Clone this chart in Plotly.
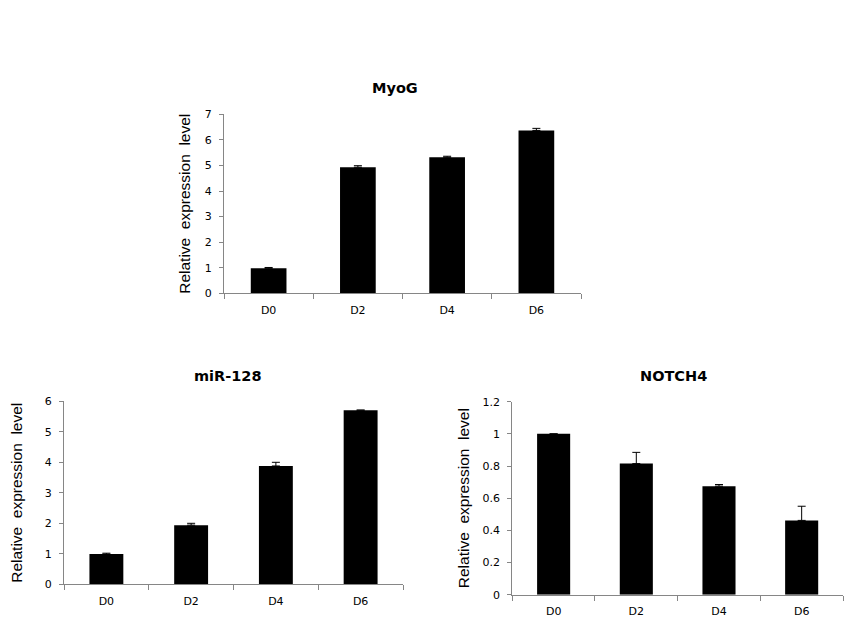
import plotly.graph_objects as go

days = ["D0", "D2", "D4", "D6"]
myog_vals = [0.98, 4.93, 5.32, 6.37]
myog_err = [0.03, 0.06, 0.04, 0.08]
mir_vals = [0.99, 1.94, 3.88, 5.71]
mir_err = [0.03, 0.06, 0.12, None]
notch_vals = [1.0, 0.815, 0.675, 0.462]
notch_err = [None, 0.07, 0.01, 0.088]

W, H = 858, 628
AX = "#868686"
TICKFONT = dict(family="DejaVu Sans", size=11, color="black")

fig = go.Figure()

panels = [
    ("MyoG", myog_vals, myog_err, "x", "y", 224, 581, 114.3, 293.3, [0, 7], 1, 395, 88, 185),
    ("miR-128", mir_vals, mir_err, "x2", "y2", 64, 403, 401.3, 584.3, [0, 6], 1, 228, 376, 17),
    ("NOTCH4", notch_vals, notch_err, "x3", "y3", 512.3, 843, 401.7, 594.7, [0, 1.2], 0.2, 673, 376, 463),
]

for i, (name, vals, err, xa, ya, x0, x1, yt, yb, rng, dt, tx, ty, ytx) in enumerate(panels):
    fig.add_trace(go.Bar(
        x=days, y=vals, xaxis=xa, yaxis=ya, width=0.4,
        marker=dict(color="black", line=dict(width=0)),
        error_y=dict(type="data", array=err, arrayminus=[0] * len(err), symmetric=False,
                     color="black", thickness=1, width=4, visible=True),
        showlegend=False,
    ))
    sfx = "" if i == 0 else str(i + 1)
    fig.update_layout(**{
        "xaxis" + sfx: dict(
            domain=[x0 / W, x1 / W], anchor=ya, type="category", automargin=False,
            showline=True, linecolor=AX, linewidth=1, ticks="outside", tickson="boundaries",
            ticklen=5, tickcolor=AX, tickfont=TICKFONT, showgrid=False, zeroline=False,
            range=[-0.5, 3.5], fixedrange=True, ticklabelstandoff=6,
        ),
        "yaxis" + sfx: dict(
            domain=[1 - yb / H, 1 - yt / H], anchor=xa, range=rng, dtick=dt, tick0=0,
            automargin=False,
            showline=True, linecolor=AX, linewidth=1, ticks="outside", ticklen=4,
            tickcolor=AX, tickfont=TICKFONT, showgrid=False, zeroline=False, fixedrange=True,
            ticklabelstandoff=5,
        ),
    })
    fig.add_annotation(text="<b>" + name + "</b>", x=tx / W, y=1 - ty / H, xref="paper", yref="paper",
                       showarrow=False, font=dict(family="DejaVu Sans", size=14.5, color="black"),
                       xanchor="center", yanchor="middle")
    fig.add_annotation(text="Relative  expression  level", x=ytx / W, y=1 - ((yt + yb) / 2) / H,
                       xref="paper", yref="paper", showarrow=False, textangle=-90,
                       font=dict(family="Liberation Sans", size=15.5, color="black"),
                       xanchor="center", yanchor="middle")

fig.update_layout(
    width=W, height=H, margin=dict(l=0, r=0, t=0, b=0, pad=0, autoexpand=False),
    paper_bgcolor="white", plot_bgcolor="white", bargap=0.6,
)

fig.write_html("out.html")
